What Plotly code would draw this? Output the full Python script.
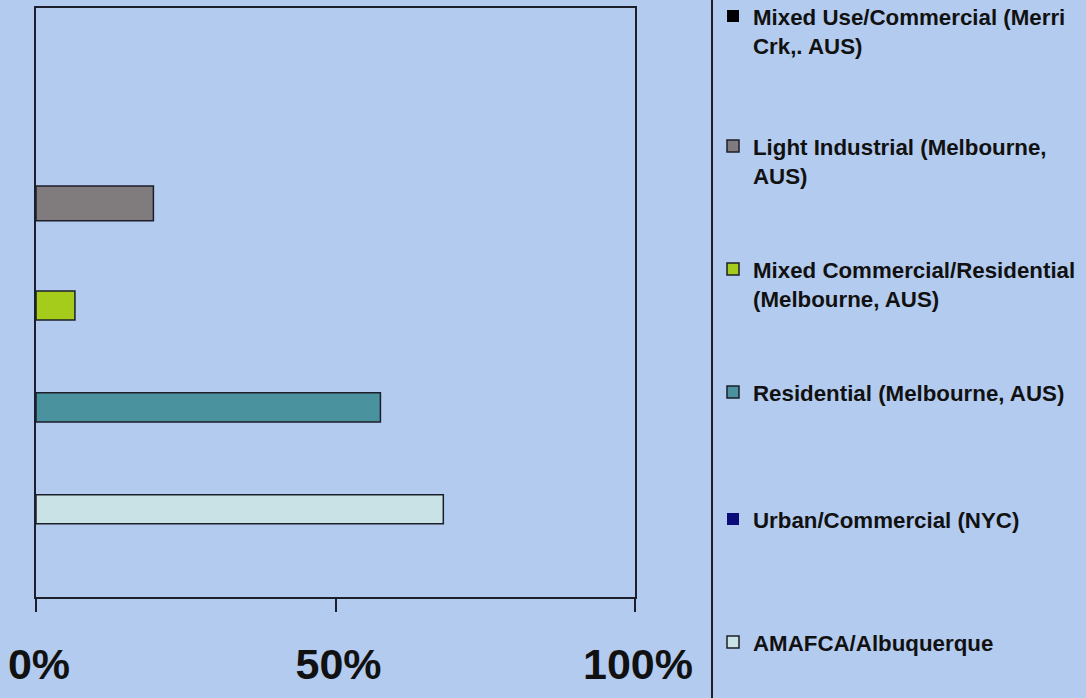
import plotly.graph_objects as go

# Categories in slot order along the y axis (bottom to top)
categories = [
    "Urban/Commercial (NYC)",
    "AMAFCA/Albuquerque",
    "Residential (Melbourne, AUS)",
    "Mixed Commercial/Residential (Melbourne, AUS)",
    "Light Industrial (Melbourne, AUS)",
    "Mixed Use/Commercial (Merri Crk,. AUS)",
]
# Share of each site (fraction of 1)
values = [0.0, 0.68, 0.575, 0.065, 0.196, 0.0]

# Legend text (line-broken) and order, top to bottom
legend_labels = {
    "Mixed Use/Commercial (Merri Crk,. AUS)": "Mixed Use/Commercial (Merri<br>Crk,. AUS)",
    "Light Industrial (Melbourne, AUS)": "Light Industrial (Melbourne,<br>AUS)",
    "Mixed Commercial/Residential (Melbourne, AUS)": "Mixed Commercial/Residential<br>(Melbourne, AUS)",
    "Residential (Melbourne, AUS)": "Residential (Melbourne, AUS)",
    "Urban/Commercial (NYC)": "Urban/Commercial (NYC)",
    "AMAFCA/Albuquerque": "AMAFCA/Albuquerque",
}
legend_order = [
    "Mixed Use/Commercial (Merri Crk,. AUS)",
    "Light Industrial (Melbourne, AUS)",
    "Mixed Commercial/Residential (Melbourne, AUS)",
    "Residential (Melbourne, AUS)",
    "Urban/Commercial (NYC)",
    "AMAFCA/Albuquerque",
]

tick_values = [0, 0.5, 1]
tick_labels = ["0%", "50%", "100%"]

# Styling
colors = {
    "Urban/Commercial (NYC)": "#0b0b7a",
    "AMAFCA/Albuquerque": "#c8e2e6",
    "Residential (Melbourne, AUS)": "#4a929d",
    "Mixed Commercial/Residential (Melbourne, AUS)": "#a5cb1b",
    "Light Industrial (Melbourne, AUS)": "#807b7c",
    "Mixed Use/Commercial (Merri Crk,. AUS)": "#000000",
}
bar_widths = {
    "Light Industrial (Melbourne, AUS)": 0.34,
}
BG = "#b3cbef"
INK = "#1c1f2b"
FONT = "Liberation Sans"

W, H = 1086, 698
ML, MR, MT, MB = 36, 451, 8, 101
PW = W - ML - MR
PH = H - MT - MB


def px_x(p):
    return (p - ML) / PW


def px_y(p):
    return (H - MB - p) / PH


# Legend block tops (pixel rows)
legend_tops = [-5, 125, 248, 371, 498, 621]

fig = go.Figure()
legend_ids = ["legend"] + [f"legend{i}" for i in range(2, 7)]
leg_of = {name: legend_ids[k] for k, name in enumerate(legend_order)}

for cat, val in zip(categories, values):
    fig.add_trace(go.Bar(
        y=[cat], x=[val], orientation="h",
        name=legend_labels[cat],
        width=bar_widths.get(cat, 0.285),
        marker=dict(color=colors[cat],
                    line=dict(color=INK, width=1.5 if val > 0 else 0)),
        legend=leg_of[cat],
        hoverinfo="skip",
    ))

layout_legends = {}
for lid, top in zip(legend_ids, legend_tops):
    layout_legends[lid] = dict(
        x=px_x(713), xanchor="left",
        y=px_y(top), yanchor="top",
        bgcolor="rgba(0,0,0,0)", borderwidth=0,
        valign="top",
        font=dict(family=FONT, size=22.3, color="#111111", weight="bold"),
    )

fig.update_layout(
    width=W, height=H, autosize=False,
    margin=dict(l=ML, r=MR, t=MT, b=MB, autoexpand=False),
    paper_bgcolor=BG, plot_bgcolor=BG,
    barmode="overlay",
    showlegend=True,
    **layout_legends,
)

fig.update_xaxes(
    range=[0, 1], tickvals=tick_values, ticktext=tick_labels,
    showgrid=False, zeroline=False,
    showline=True, linecolor=INK, linewidth=2, mirror=True,
    ticks="outside", ticklen=13, tickwidth=2, tickcolor=INK,
    ticklabelshift=3, ticklabelstandoff=15,
    tickfont=dict(family=FONT, size=43, color="#111111", weight="bold"),
)
fig.update_yaxes(
    type="category", categoryorder="array", categoryarray=categories,
    range=[0.14, 5.917],
    showgrid=False, zeroline=False, showticklabels=False, ticks="",
    showline=True, linecolor=INK, linewidth=2, mirror=True,
)

# Divider to the left of the legend
fig.add_shape(type="line", xref="paper", yref="paper",
              x0=px_x(712), x1=px_x(712), y0=px_y(H + 5), y1=px_y(-5),
              line=dict(color=INK, width=2))

fig.write_html("out.html")
